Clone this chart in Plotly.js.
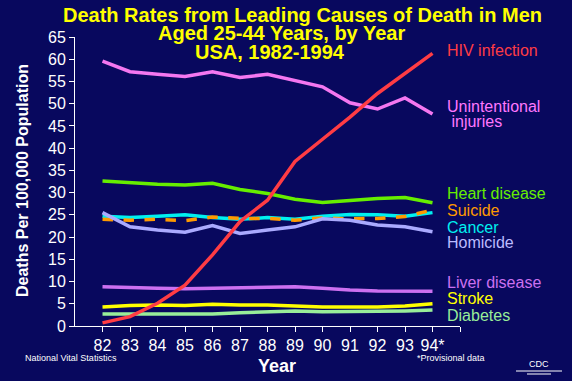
<!DOCTYPE html>
<html>
<head>
<meta charset="utf-8">
<script src="https://cdn.plot.ly/plotly-3.0.1.min.js"></script>
<style>html,body{margin:0;padding:0;background:#08085e;}#chart{width:572px;height:381px;}</style>
</head>
<body>
<div id="chart"></div>
<script>
const years = [82, 83, 84, 85, 86, 87, 88, 89, 90, 91, 92, 93, 94];
const yearLabels = ["82", "83", "84", "85", "86", "87", "88", "89", "90", "91", "92", "93", "94*"];

const hiv           = [0.7, 2.1, 5.1, 9.2, 16.0, 23.5, 28.3, 37.0, 42.0, 47.0, 52.3, 56.8, 61.3];
const unintentional = [59.6, 57.2, 56.6, 56.1, 57.2, 55.9, 56.6, 55.3, 53.8, 50.2, 48.8, 51.3, 47.7];
const heart         = [32.6, 32.2, 31.9, 31.7, 32.1, 30.7, 29.8, 28.5, 27.8, 28.2, 28.7, 28.9, 27.7];
const cancer        = [24.7, 24.4, 24.7, 25.0, 24.4, 24.0, 24.4, 24.0, 24.7, 25.1, 25.0, 24.7, 25.5];
const suicide       = [24.0, 23.8, 24.0, 23.7, 24.5, 24.2, 24.2, 23.8, 24.3, 24.1, 24.2, 24.6, 26.1];
const homicide      = [25.5, 22.3, 21.6, 21.1, 22.6, 20.8, 21.6, 22.3, 24.1, 23.8, 22.7, 22.3, 21.2];
const liver         = [8.8, 8.6, 8.5, 8.4, 8.5, 8.5, 8.7, 8.8, 8.5, 8.1, 7.9, 7.9, 7.8];
const stroke        = [4.3, 4.6, 4.7, 4.6, 4.9, 4.7, 4.7, 4.5, 4.3, 4.3, 4.3, 4.5, 5.0];
const diabetes      = [2.7, 2.7, 2.7, 2.8, 2.7, 3.0, 3.2, 3.4, 3.2, 3.2, 3.3, 3.4, 3.6];

const seriesNames = ["Unintentional injuries", "Heart disease", "Cancer", "Suicide", "Homicide", "Liver disease", "Stroke", "Diabetes", "HIV infection"];

const FONT = "Arial, 'Liberation Sans', sans-serif";
function line(name, y, color, dash) {
  return {x: years, y: y, name: name, type: "scatter", mode: "lines",
          line: {color: color, width: 3.5, dash: dash || "solid"}, hoverinfo: "skip"};
}

const traces = [
  line(seriesNames[0], unintentional, "#f477f0"),
  line(seriesNames[1], heart, "#66ee00"),
  line(seriesNames[2], cancer, "#00f0f0"),
  line(seriesNames[3], suicide, "#ff9a00", "dash"),
  line(seriesNames[4], homicide, "#aaaaff"),
  line(seriesNames[5], liver, "#cc70f0"),
  line(seriesNames[6], stroke, "#ffff00"),
  line(seriesNames[7], diabetes, "#99ee99"),
  line(seriesNames[8], hiv, "#ff3c44")
];

// pixel -> paper helpers (plot area 75..460 x 37..326)
function px(x) { return (x - 75) / 385; }
function py(y) { return (326 - y) / 289; }

function label(text, yPix, color) {
  return {text: text, xref: "paper", yref: "paper", x: px(445), y: py(yPix),
          xanchor: "left", yanchor: "middle", showarrow: false,
          font: {family: FONT, size: 16, color: color}};
}
function note(text, xPix, yPix, size, bold, anchor) {
  return {text: bold ? "<b>" + text + "</b>" : text, xref: "paper", yref: "paper",
          x: px(xPix), y: py(yPix), xanchor: anchor || "center", yanchor: "middle",
          showarrow: false, font: {family: FONT, size: size, color: "#ffffff"}};
}
function titleLine(text, xPix, yPix) {
  return {text: "<b>" + text + "</b>", xref: "paper", yref: "paper", x: px(xPix), y: py(yPix),
          xanchor: "center", yanchor: "middle", showarrow: false,
          font: {family: FONT, size: 20, color: "#ffff00"}};
}

const annotations = [
  titleLine("Death Rates from Leading Causes of Death in Men", 302, 15),
  titleLine("Aged 25-44 Years, by Year", 281, 33),
  titleLine("USA, 1982-1994", 270, 52),
  label("HIV infection", 51, "#ff3c44"),
  label("Unintentional", 106, "#ff77ff"),
  label(" injuries", 121, "#ff77ff"),
  label("Heart disease", 193, "#66ee00"),
  label("Suicide", 210, "#ff9a00"),
  label("Cancer", 227, "#00f0f0"),
  label("Homicide", 242, "#bbbbff"),
  label("Liver disease", 282, "#cc70f0"),
  label("Stroke", 298, "#ffff00"),
  label("Diabetes", 315, "#99ee99"),
  note("Year", 277, 366, 18, true),
  note("National Vital Statistics", 23, 358, 9, false, "left"),
  note("*Provisional data", 415, 358, 9, false, "left"),
  note("CDC", 539, 364, 9, false),
  {text: "<b>Deaths Per 100,000 Population</b>", xref: "paper", yref: "paper",
   x: px(22), y: py(181), xanchor: "center", yanchor: "middle", textangle: -90,
   showarrow: false, font: {family: FONT, size: 16, color: "#ffffff"}}
];

const shapes = [
  {type: "line", xref: "paper", yref: "paper", x0: px(516), x1: px(562), y0: py(371), y1: py(371),
   line: {color: "#ffffff", width: 1}},
  {type: "line", xref: "paper", yref: "paper", x0: px(527), x1: px(551), y0: py(374), y1: py(374),
   line: {color: "#ffffff", width: 1}}
];

const layout = {
  width: 572, height: 381,
  margin: {l: 75, r: 112, t: 37, b: 55, pad: 0},
  paper_bgcolor: "#08085e", plot_bgcolor: "#08085e",
  showlegend: false,
  font: {family: FONT, color: "#ffffff"},
  xaxis: {
    range: [81, 95], tickmode: "array",
    tickvals: years.concat([95]), ticktext: yearLabels.concat([""]),
    ticks: "outside", ticklen: 5, tickcolor: "#ffffff", tickwidth: 1,
    showline: true, linecolor: "#ffffff", linewidth: 1,
    showgrid: false, zeroline: false,
    tickfont: {family: FONT, size: 16, color: "#ffffff"}
  },
  yaxis: {
    range: [0, 65], dtick: 5, tick0: 0,
    ticks: "outside", ticklen: 5, tickcolor: "#ffffff", tickwidth: 1,
    showline: true, linecolor: "#ffffff", linewidth: 1,
    showgrid: false, zeroline: false,
    tickfont: {family: FONT, size: 16, color: "#ffffff"}
  },
  annotations: annotations,
  shapes: shapes
};

Plotly.newPlot("chart", traces, layout, {displayModeBar: false, staticPlot: true});
</script>
</body>
</html>
